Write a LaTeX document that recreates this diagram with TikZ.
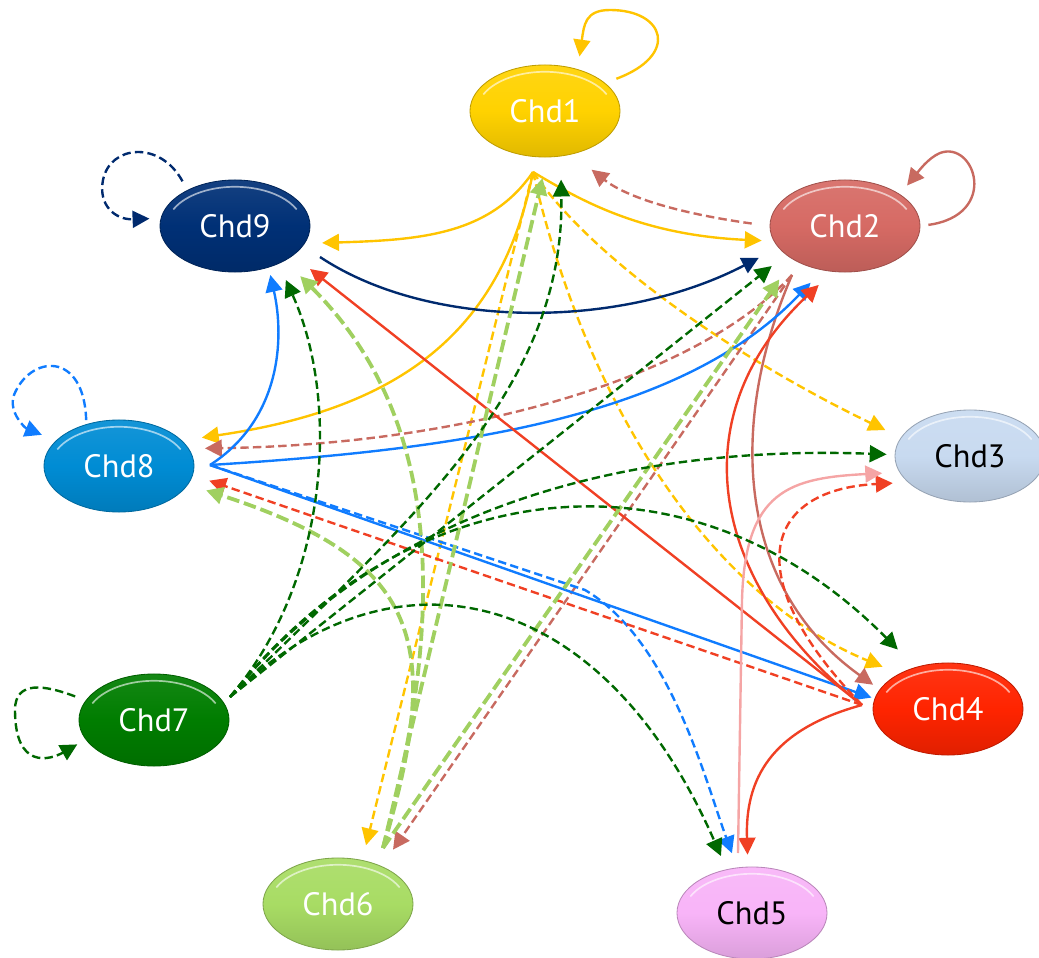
\documentclass[tikz,border=0pt]{standalone}
\usepackage{fontspec}
\setmainfont{PT Sans}
\usetikzlibrary{arrows.meta,calc,shapes.geometric}
\definecolor{NetGold}{RGB}{255,210,0}
\definecolor{NetRose}{RGB}{214,106,100}
\definecolor{NetMist}{RGB}{200,218,240}
\definecolor{NetScarlet}{RGB}{255,36,0}
\definecolor{NetOrchid}{RGB}{248,180,248}
\definecolor{NetLime}{RGB}{168,220,100}
\definecolor{NetForest}{RGB}{0,125,0}
\definecolor{NetAzure}{RGB}{0,140,212}
\definecolor{NetNavy}{RGB}{0,48,118}
\definecolor{InkGold}{RGB}{255,196,0}
\definecolor{InkRose}{RGB}{200,106,96}
\definecolor{InkNavy}{RGB}{0,42,110}
\definecolor{InkBlue}{RGB}{16,124,255}
\definecolor{InkRed}{RGB}{240,64,36}
\definecolor{InkLime}{RGB}{160,208,96}
\definecolor{InkGreen}{RGB}{0,104,0}
\definecolor{InkPink}{RGB}{245,165,165}
\tikzset{
    net/diagram/.style={
        x=0.025cm, y=-0.025cm,
        line join=round,
        >={Triangle[length=12pt, width=12pt]}
    },
    net/gene/.style={
        ellipse, minimum width=3.75cm, minimum height=2.3cm, inner sep=0pt,
        font=\fontsize{23}{26}\selectfont,
        draw=#1!75!black, line width=0.6pt,
        top color=#1!92!white, bottom color=#1!88!black, middle color=#1
    },
    net/gloss/.style={draw=white, opacity=0.6, line width=1.2pt},
    net/link/.style={draw=#1, line width=1.7pt, ->, shorten >=0.45cm},
    net/dashlink/.style={net/link=#1, dash pattern=on 6pt off 3pt},
    net/thick/.style={net/link=#1, line width=2.7pt, dash pattern=on 9pt off 3.5pt}
}
\begin{document}
\begin{tikzpicture}[net/diagram]
    \useasboundingbox (0,0) rectangle (1039,958);

    % The nine remodellers.
    \node[net/gene=NetGold, text=white] (c1) at (545,111) {Chd1};
    \node[net/gene=NetRose, text=white] (c2) at (845,226) {Chd2};
    \node[net/gene=NetMist, text=black] (c3) at (970,456) {Chd3};
    \node[net/gene=NetScarlet, text=white] (c4) at (948,709) {Chd4};
    \node[net/gene=NetOrchid, text=black] (c5) at (752,913) {Chd5};
    \node[net/gene=NetLime, text=white] (c6) at (338,904) {Chd6};
    \node[net/gene=NetForest, text=white] (c7) at (154,720) {Chd7};
    \node[net/gene=NetAzure, text=white] (c8) at (119,466) {Chd8};
    \node[net/gene=NetNavy, text=white] (c9) at (235,226) {Chd9};
    \foreach \g in {c1,c2,c3,c4,c5,c6,c7,c8,c9}
        \draw[net/gloss] ($(\g)+(25:1.7cm and 0.98cm)$)
            arc[start angle=25, end angle=155, x radius=1.7cm, y radius=0.98cm];

    % Points where the outgoing links leave each node.
    \coordinate (h1) at (533,172);
    \coordinate (h2) at (792,275);
    \coordinate (h4) at (862,705);
    \coordinate (h5) at (738,853);
    \coordinate (h6) at (383,848);
    \coordinate (h7) at (230,697);
    \coordinate (h8) at (210,465);
    \coordinate (h9) at (320,257);

    % Chd1
    \draw[net/link=InkGold, shorten <=0.3cm, shorten >=0.32cm]
        (c1.25) .. controls (680,55) and (665,10) .. (610,10)
        .. controls (585,10) and (584,25) .. (c1.52);
    \draw[net/link=InkGold, shorten >=0.43cm] (h1) .. controls (490,235) and (420,240) .. (c9.-14);
    \draw[net/link=InkGold, shorten >=0.3cm] (h1) .. controls (580,200) and (640,235) .. (c2.-168);
    \draw[net/link=InkGold, shorten >=0.5cm] (h1) .. controls (500,340) and (390,410) .. (c8.22);
    \draw[net/dashlink=InkGold, shorten >=0.43cm] (h1) .. controls (600,270) and (760,370) .. (c3.165);
    \draw[net/dashlink=InkGold] (h1) .. controls (590,420) and (720,600) .. (c4.144);
    \draw[net/dashlink=InkGold, shorten >=0.38cm] (h1) -- (c6.61);

    % Chd2
    \draw[net/link=InkRose, shorten <=0.2cm, shorten >=0.28cm]
        (c2.east) .. controls (1000,215) and (975,140) .. (940,153)
        .. controls (928,158) and (918,172) .. (c2.30);
    \draw[net/dashlink=InkRose, shorten <=0.45cm, shorten >=0.62cm]
        (c2.west) .. controls (690,215) and (630,200) .. (c1.-58);
    \draw[net/dashlink=InkRose, shorten >=0.4cm] (h2) .. controls (690,385) and (450,445) .. (c8.14);
    \draw[net/dashlink=InkRose, shorten >=0.5cm] (h2) -- (c6.41);
    \draw[net/link=InkRose, shorten >=0.2cm] (h2) .. controls (725,430) and (740,590) .. (c4.164);

    % Chd9
    \draw[net/dashlink=InkNavy, shorten <=0.25cm, shorten >=0.28cm]
        (c9.143) .. controls (160,140) and (110,145) .. (103,180)
        .. controls (98,205) and (115,220) .. (c9.174);
    \draw[net/link=InkNavy, shorten >=0.55cm] (h9) .. controls (430,330) and (620,330) .. (c2.-162);

    % Chd8
    \draw[net/dashlink=InkBlue, shorten <=0.1cm, shorten >=0.38cm]
        (c8.128) .. controls (84,350) and (30,355) .. (14,395)
        .. controls (8,412) and (25,428) .. (c8.158);
    \draw[net/link=InkBlue, shorten >=0.19cm] (h8) .. controls (280,420) and (285,340) .. (c9.-51);
    \draw[net/link=InkBlue, shorten >=0.43cm] (h8) .. controls (450,450) and (680,420) .. (c2.-117);
    \draw[net/link=InkBlue, shorten >=0.08cm] (h8) -- (c4.172);
    \draw[net/dashlink=InkBlue, shorten >=0.38cm]
        (h8) -- (585,590) .. controls (670,640) and (705,780) .. (c5.108);

    % Chd4
    \draw[net/link=InkRed, shorten >=0.54cm] (h4) -- (c9.-27);
    \draw[net/link=InkRed, shorten >=0.48cm] (h4) .. controls (715,590) and (675,420) .. (c2.-105);
    \draw[net/dashlink=InkRed, shorten >=0.43cm] (h4) -- (c8.-7);
    \draw[net/dashlink=InkRed, shorten >=0.38cm] (h4) .. controls (740,580) and (760,490) .. (c3.-157);
    \draw[net/link=InkRed, shorten >=0.3cm] (h4) .. controls (770,730) and (745,780) .. (c5.95);

    % Chd5
    \draw[net/link=InkPink, shorten >=0.43cm]
        (h5) -- (742,600) .. controls (745,490) and (790,478) .. (c3.-167);

    % Chd6
    \draw[net/thick=InkLime, shorten >=0.53cm] (h6) -- (c1.-87);
    \draw[net/thick=InkLime, shorten >=0.6cm] (h6) -- (c2.-147);
    \draw[net/thick=InkLime, shorten >=0.54cm] (h6) .. controls (445,620) and (445,420) .. (c9.-35);
    \draw[net/thick=InkLime, shorten >=0.47cm] (h6) .. controls (445,640) and (420,560) .. (c8.-15);

    % Chd7
    \draw[net/dashlink=InkGreen, shorten <=0.28cm, shorten >=0.24cm]
        (c7.164) .. controls (45,685) and (15,680) .. (15,710)
        .. controls (15,770) and (50,760) .. (c7.-164);
    \draw[net/dashlink=InkGreen, shorten >=0.58cm] (h7) .. controls (410,520) and (565,390) .. (c1.-71);
    \draw[net/dashlink=InkGreen, shorten >=0.44cm] (h7) .. controls (330,580) and (340,400) .. (c9.-41);
    \draw[net/dashlink=InkGreen] (h7) -- (c2.-154);
    \draw[net/dashlink=InkGreen, shorten >=0.2cm] (h7) .. controls (390,500) and (640,445) .. (c3.179);
    \draw[net/dashlink=InkGreen, shorten >=0.62cm] (h7) .. controls (410,470) and (690,440) .. (c4.128);
    \draw[net/dashlink=InkGreen, shorten >=0.36cm] (h7) .. controls (390,540) and (600,580) .. (c5.120);
\end{tikzpicture}
\end{document}
